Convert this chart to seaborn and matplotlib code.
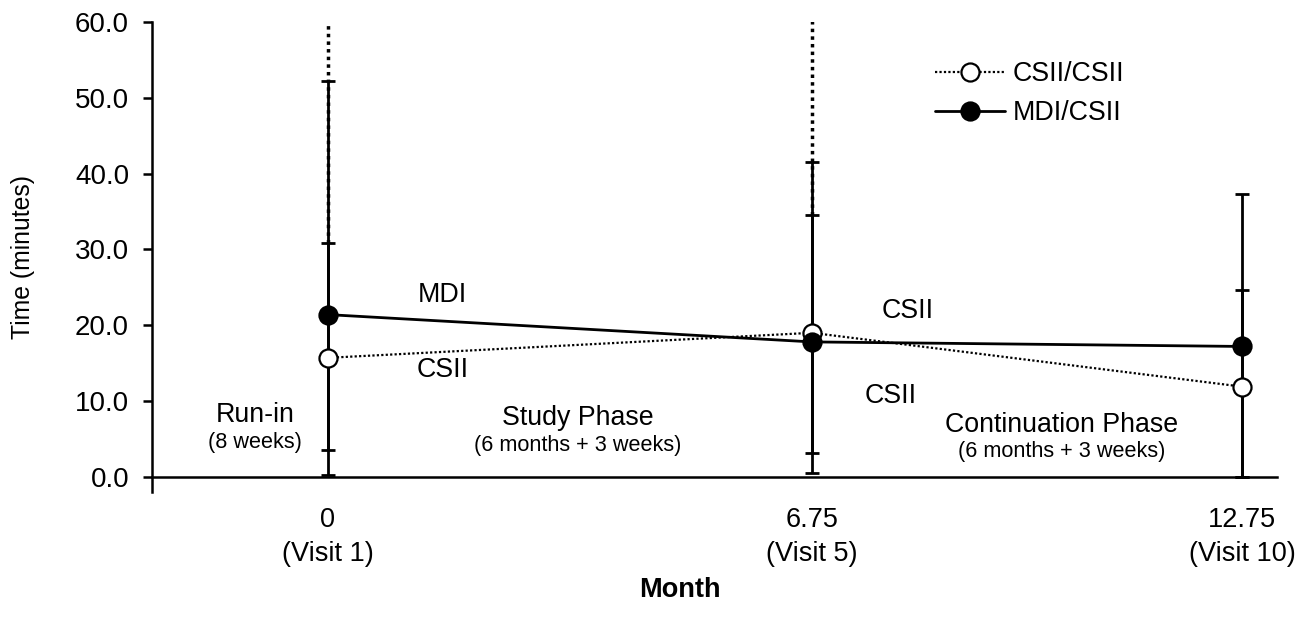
import numpy as np
import pandas as pd
import matplotlib
matplotlib.use('Agg')
import matplotlib.pyplot as plt
import seaborn as sns

# Data
months = [0, 6.75, 12.75]
month_labels = ['0\n(Visit 1)', '6.75\n(Visit 5)', '12.75\n(Visit 10)']

csii_mean = [15.7, 19.0, 11.9]
csii_lo = [0.3, 0.5, 0.0]
csii_hi = [30.9, 34.5, 24.7]
csii_top = [75.0, 75.0]          # dotted whisker runs off the top at visits 1 and 5

mdi_mean = [21.4, 17.8, 17.2]
mdi_lo = [3.6, 3.2, 0.0]
mdi_hi = [52.2, 41.5, 37.3]

sns.set_style('ticks')
plt.rcParams['font.family'] = ['Liberation Sans', 'DejaVu Sans']
for k in ['text.color', 'axes.labelcolor', 'xtick.color', 'ytick.color', 'axes.edgecolor']:
    plt.rcParams[k] = 'black'

fig = plt.figure(figsize=(13.02, 6.25), dpi=100)
ax = fig.add_axes([152/1302, 1 - 492/625, (1277-152)/1302, (492-22)/625])

df = pd.DataFrame({'month': months, 'csii': csii_mean, 'mdi': mdi_mean})

# error bars
ax.errorbar(months, mdi_mean,
            yerr=[np.subtract(mdi_mean, mdi_lo), np.subtract(mdi_hi, mdi_mean)],
            fmt='none', ecolor='black', elinewidth=2, capsize=5, capthick=2, zorder=2)
ax.errorbar(months, csii_mean,
            yerr=[np.subtract(csii_mean, csii_lo), np.subtract(csii_hi, csii_mean)],
            fmt='none', ecolor='black', elinewidth=2, capsize=5, capthick=2, zorder=2)
ax.vlines(months[:2], csii_hi[:2], csii_top, colors='black', linewidth=2.5,
          linestyles=[(0, (1, 1.2))], zorder=2)

# mean lines
sns.lineplot(data=df, x='month', y='csii', ax=ax, color='black', linewidth=1.6,
             linestyle=(0, (1, 1)), marker='o', markersize=13, markerfacecolor='white',
             markeredgecolor='black', markeredgewidth=1.6, label='CSII/CSII', zorder=3)
sns.lineplot(data=df, x='month', y='mdi', ax=ax, color='black', linewidth=2,
             marker='o', markersize=13, markerfacecolor='black',
             markeredgecolor='black', markeredgewidth=1.6, label='MDI/CSII', zorder=3)

ax.set_xlim(-2.455, 13.24)
ax.set_ylim(-2, 60)
ax.spines['top'].set_visible(False)
ax.spines['right'].set_visible(False)
ax.spines['bottom'].set_position(('data', 0))
ax.spines['left'].set_linewidth(1.8)
ax.spines['bottom'].set_linewidth(1.8)

ax.set_yticks(np.arange(0, 61, 10))
ax.set_yticklabels([f'{v:.1f}' for v in np.arange(0, 61, 10)], fontsize=20)
ax.tick_params(axis='y', direction='out', length=6.5, width=1.8, pad=10)
ax.set_xticks(months)
ax.set_xticklabels(month_labels, fontsize=19.5, linespacing=1.4)
ax.tick_params(axis='x', length=0, pad=22)

ax.set_xlabel('Month', fontsize=19.5, fontweight='bold')
ax.xaxis.set_label_coords(0.469, -0.181)
ax.set_ylabel('Time (minutes)', fontsize=17.8)
ax.yaxis.set_label_coords(-0.104, 0.5)

# phase annotations
big = 19.3
small = 15.6
ax.text(-1.02, 8.2, 'Run-in', ha='center', va='center', fontsize=big)
ax.text(-1.02, 4.5, '(8 weeks)', ha='center', va='center', fontsize=small)
ax.text(1.60, 24.0, 'MDI', ha='center', va='center', fontsize=big)
ax.text(1.60, 14.1, 'CSII', ha='center', va='center', fontsize=big)
ax.text(3.49, 7.7, 'Study Phase', ha='center', va='center', fontsize=big)
ax.text(3.49, 4.1, '(6 months + 3 weeks)', ha='center', va='center', fontsize=small)
ax.text(8.09, 21.9, 'CSII', ha='center', va='center', fontsize=big)
ax.text(7.85, 10.7, 'CSII', ha='center', va='center', fontsize=big)
ax.text(10.24, 6.9, 'Continuation Phase', ha='center', va='center', fontsize=big)
ax.text(10.24, 3.3, '(6 months + 3 weeks)', ha='center', va='center', fontsize=small)

leg = ax.legend(loc='upper left', bbox_to_anchor=(935/1302, 1 - 61/625),
                bbox_transform=fig.transFigure, frameon=False, fontsize=19.3,
                handlelength=2.6, handletextpad=0.3, labelspacing=0.5,
                borderpad=0, borderaxespad=0)

fig.savefig('out.png', dpi=100, facecolor='white')
